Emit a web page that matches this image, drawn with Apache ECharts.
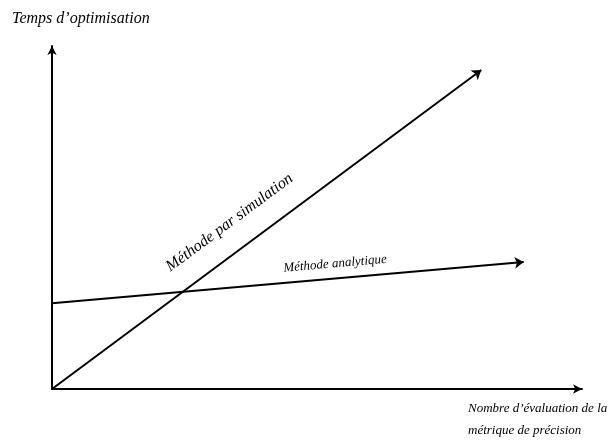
<!DOCTYPE html>
<html>
<head>
<meta charset="utf-8">
<script src="https://cdn.jsdelivr.net/npm/echarts@6/dist/echarts.min.js"></script>
<style>
html,body{margin:0;padding:0;background:#fff;}
#chart{width:608px;height:441px;}
</style>
</head>
<body>
<div id="chart"></div>
<script>
var seriesNames = ['Méthode par simulation', 'Méthode analytique'];
var simulation = [[0, 0], [81, 93]];
var analytique = [[0, 25], [89, 37]];
// point d'ancrage des étiquettes (en coordonnées données)
var labelAnchors = [[33.5, 48.5], [53.4, 36.5]];
var axisTitles = ['Temps d\u2019optimisation', 'Nombre d\u2019évaluation de la', 'métrique de précision'];

var font = '"Liberation Serif", "Times New Roman", serif';
var chart = echarts.init(document.getElementById('chart'));

var axisCommon = {
    type: 'value',
    min: 0,
    max: 100,
    axisLine: {
        show: true,
        symbol: ['none', 'arrow'],
        symbolSize: [7, 9],
        lineStyle: {color: '#000', width: 2}
    },
    axisTick: {show: false},
    axisLabel: {show: false},
    splitLine: {show: false}
};

chart.setOption({
    animation: false,
    grid: {left: 52, right: 26, top: 46, bottom: 52},
    xAxis: axisCommon,
    yAxis: axisCommon,
    series: [
        {
            name: seriesNames[0],
            type: 'lines',
            coordinateSystem: 'cartesian2d',
            symbol: ['none', 'arrow'],
            symbolSize: 9,
            lineStyle: {color: '#000', width: 2, opacity: 1},
            data: [{coords: simulation}]
        },
        {
            name: seriesNames[1],
            type: 'lines',
            coordinateSystem: 'cartesian2d',
            symbol: ['none', 'arrow'],
            symbolSize: 9,
            lineStyle: {color: '#000', width: 2, opacity: 1},
            data: [{coords: analytique}]
        }
    ]
});

// étiquettes le long des droites
function angleOf(pts) {
    var a = chart.convertToPixel({gridIndex: 0}, pts[0]);
    var b = chart.convertToPixel({gridIndex: 0}, pts[1]);
    return Math.atan2(a[1] - b[1], b[0] - a[0]);
}
var lines = [simulation, analytique];
var labelSizes = [16, 13];
var graphics = [];
for (var i = 0; i < lines.length; i++) {
    var p = chart.convertToPixel({gridIndex: 0}, labelAnchors[i]);
    graphics.push({
        type: 'text',
        x: p[0],
        y: p[1],
        rotation: angleOf(lines[i]),
        style: {
            text: seriesNames[i],
            font: 'italic ' + labelSizes[i] + 'px ' + font,
            fill: '#000',
            align: 'center',
            verticalAlign: 'middle'
        }
    });
}
graphics.push({
    type: 'text', left: 12, top: 11,
    style: {text: axisTitles[0], font: 'italic 16px ' + font, fill: '#000'}
});
graphics.push({
    type: 'text', left: 468, top: 398,
    style: {text: axisTitles[1] + '\n' + axisTitles[2], font: 'italic 13px ' + font, lineHeight: 22, fill: '#000'}
});
chart.setOption({graphic: graphics});
</script>
</body>
</html>
